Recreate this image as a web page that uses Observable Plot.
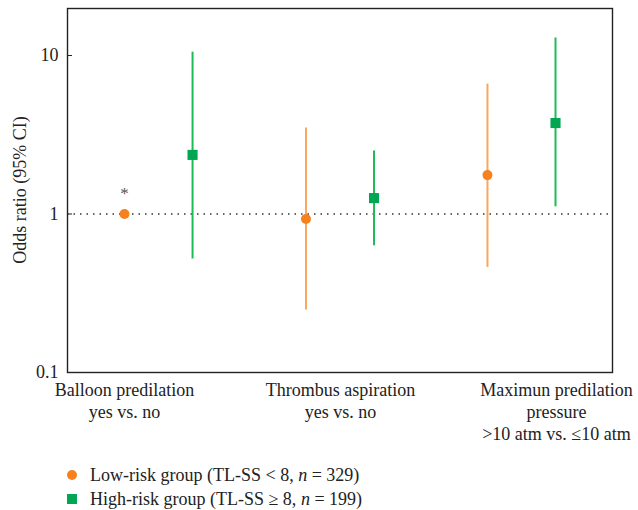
<!DOCTYPE html>
<html>
<head>
<meta charset="utf-8">
<script src="https://cdn.jsdelivr.net/npm/d3@7"></script>
<script src="https://cdn.jsdelivr.net/npm/@observablehq/plot@0.6"></script>
<style>
  html, body { margin: 0; padding: 0; background: #fff; }
  #wrap { position: relative; width: 638px; height: 510px; font-family: "Liberation Serif", "DejaVu Serif", serif; color: #222; }
  #ylabel { position: absolute; left: 20px; top: 190px; font-size: 18px; white-space: nowrap; transform: translate(-50%, -50%) rotate(-90deg); }
  #legend { position: absolute; left: 66px; top: 463px; font-size: 18px; line-height: 24px; }
  #legend .row { display: flex; align-items: center; height: 24px; }
  #legend svg { margin-right: 12px; }
</style>
</head>
<body>
<div id="wrap"><div id="chart"></div><div id="ylabel"></div><div id="legend"></div></div>
<script>
// ---- data ----
const categories = ["Balloon predilation\nyes vs. no", "Thrombus aspiration\nyes vs. no", "Maximun predilation\npressure\n>10 atm vs. ≤10 atm"];
const groups = ["Low-risk group", "High-risk group"];
const lowOR = [1, 0.93, 1.76];
const lowLo = [null, 0.248, 0.46];
const lowHi = [null, 3.49, 6.6];
const lowNote = ["*", "", ""];
const highOR = [2.36, 1.26, 3.75];
const highLo = [0.52, 0.63, 1.11];
const highHi = [10.5, 2.5, 12.9];
const yTicks = [0.1, 1, 10];
const yLabel = "Odds ratio (95% CI)";
const legendLabels = ["Low-risk group (TL-SS < 8, <i>n</i> = 329)", "High-risk group (TL-SS ≥ 8, <i>n</i> = 199)"];

// ---- layout ----
const groupOffset = [0, 0.375];
const labelSpread = 1.19;
const dotColor = ["#F5821F", "#00A651"];
const lineColor = ["#FBA65C", "#1DBA55"];

const rows = [];
categories.forEach((c, i) => {
  rows.push({i, g: 0, x: i + groupOffset[0], or: lowOR[i], lo: lowLo[i], hi: lowHi[i], note: lowNote[i]});
  rows.push({i, g: 1, x: i + groupOffset[1], or: highOR[i], lo: highLo[i], hi: highHi[i], note: ""});
});
const labels = categories.map((c, i) => ({x: i * labelSpread, text: c}));

const font = "Liberation Serif";
const plot = Plot.plot({
  width: 638,
  height: 450,
  marginLeft: 67,
  marginRight: 26,
  marginTop: 8,
  marginBottom: 78,
  style: {fontFamily: font, fontSize: "18px", color: "#222", background: "#fff"},
  x: {domain: [-0.314, 2.689], axis: null},
  y: {type: "log", domain: [0.1, 19.8], ticks: yTicks, tickFormat: d => String(d), label: null},
  marks: [
    Plot.ruleY([1], {stroke: "#333", strokeDasharray: "1.5,5", strokeWidth: 1.3}),
    Plot.ruleX(rows.filter(d => d.lo != null), {x: "x", y1: "lo", y2: "hi", stroke: d => lineColor[d.g], strokeWidth: 2}),
    Plot.dot(rows.filter(d => d.g === 0), {x: "x", y: "or", r: 5, fill: d => dotColor[d.g], symbol: "circle"}),
    Plot.dot(rows.filter(d => d.g === 1), {x: "x", y: "or", r: 5.7, fill: d => dotColor[d.g], symbol: "square"}),
    Plot.text(rows.filter(d => d.note), {x: "x", y: "or", text: "note", dy: -20, fill: "#555", fontSize: 17}),
    Plot.text(labels, {x: "x", text: "text", frameAnchor: "bottom", lineAnchor: "top", dy: 8, fontSize: 18, lineHeight: 1.22, fill: "#222"}),
    Plot.axisY({ticks: yTicks, tickFormat: d => String(d), tickSize: 0, tickPadding: 9, fontSize: 18, label: null, fill: "#222"}),
    Plot.tickY(yTicks, {y: d => d, stroke: "#222", inset: 0, insetRight: 545 - 5}),
    Plot.frame({stroke: "#222", strokeWidth: 1.4})
  ]
});
document.getElementById("chart").appendChild(plot);
document.getElementById("ylabel").textContent = yLabel;

// ---- legend ----
const legend = document.getElementById("legend");
legendLabels.forEach((t, g) => {
  const row = document.createElement("div");
  row.className = "row";
  const sym = g === 0
    ? `<svg width="12" height="12"><circle cx="6" cy="6" r="5" fill="${dotColor[g]}"/></svg>`
    : `<svg width="12" height="12"><rect x="1" y="1" width="10" height="10" fill="${dotColor[g]}"/></svg>`;
  row.innerHTML = sym + `<span>${t}</span>`;
  legend.appendChild(row);
});
</script>
</body>
</html>
